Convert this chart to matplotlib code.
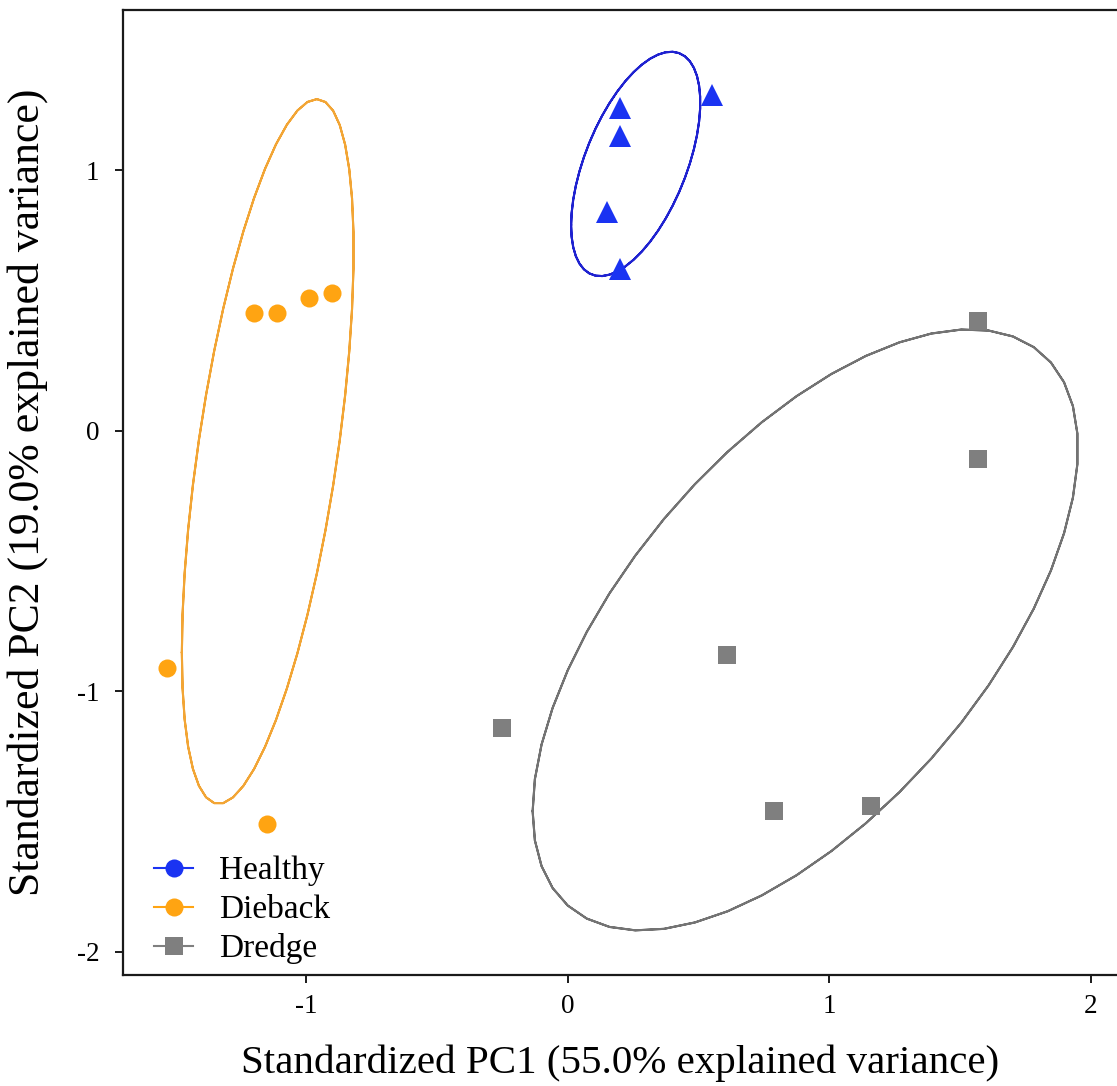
import numpy as np
import matplotlib
matplotlib.use("Agg")
import matplotlib.pyplot as plt
from matplotlib.lines import Line2D

plt.rcParams['font.family'] = ['Liberation Serif', 'DejaVu Serif']

# PCA scores (standardized) per group
healthy_pc1 = [0.20, 0.55, 0.20, 0.15, 0.20]
healthy_pc2 = [1.24, 1.29, 1.13, 0.84, 0.62]

dieback_pc1 = [-1.20, -1.11, -0.99, -0.90, -1.53, -1.15]
dieback_pc2 = [0.45, 0.45, 0.51, 0.53, -0.91, -1.51]

dredge_pc1 = [1.57, 1.57, 0.61, -0.25, 0.79, 1.16]
dredge_pc2 = [0.42, -0.11, -0.86, -1.14, -1.46, -1.44]

group_names = ["Healthy", "Dieback", "Dredge"]
x_ticks = [-1, 0, 1, 2]
y_ticks = [-2, -1, 0, 1]

point_colors = {"Healthy": "#1a33f2", "Dieback": "#ffa412", "Dredge": "#7f7f7f"}
ellipse_colors = {"Healthy": "#1f22d0", "Dieback": "#f2a535", "Dredge": "#737373"}
markers = {"Healthy": "^", "Dieback": "o", "Dredge": "s"}
marker_sizes = {"Healthy": 16, "Dieback": 13, "Dredge": 13}

ELLIPSE_PROB = 0.68


def normal_ellipse(x, y, prob=ELLIPSE_PROB):
    """Normal-theory ellipse from sample covariance (50 segments each way)."""
    data = np.column_stack([x, y])
    sigma = np.cov(data, rowvar=False)
    mu = data.mean(axis=0)
    ed = np.sqrt(-2.0 * np.log(1.0 - prob))  # chi-square quantile, df = 2
    theta = np.concatenate([np.linspace(-np.pi, np.pi, 50),
                            np.linspace(np.pi, -np.pi, 50)])
    circle = np.column_stack([np.cos(theta), np.sin(theta)])
    upper = np.linalg.cholesky(sigma).T
    pts = circle @ upper * ed + mu
    return pts[:, 0], pts[:, 1]


W, H = 1117, 1086
fig = plt.figure(figsize=(W / 100, H / 100), dpi=100)
left_px, right_px, top_px, bottom_px = 123, 1117, 10, 975
ax_w, ax_h = right_px - left_px, bottom_px - top_px
ax = fig.add_axes([left_px / W, 1 - bottom_px / H, ax_w / W, ax_h / H])

groups = {
    "Healthy": (healthy_pc1, healthy_pc2),
    "Dieback": (dieback_pc1, dieback_pc2),
    "Dredge": (dredge_pc1, dredge_pc2),
}

for name in group_names:
    gx, gy = groups[name]
    ex, ey = normal_ellipse(gx, gy)
    ax.plot(ex, ey, color=ellipse_colors[name], lw=1.5, zorder=2)
for name in group_names:
    gx, gy = groups[name]
    ax.plot(gx, gy, linestyle="none", marker=markers[name],
            markersize=marker_sizes[name], color=point_colors[name],
            markeredgewidth=0, zorder=3)

ax.set_xlim(-1.70, 2.10)
ax.set_ylim(-2.09, 1.615)
ax.set_xticks(x_ticks)
ax.set_yticks(y_ticks)
ax.set_xticklabels([str(t) for t in x_ticks])
ax.set_yticklabels([str(t) for t in y_ticks])

for side in ("top", "left", "bottom"):
    ax.spines[side].set_linewidth(1.6)
    ax.spines[side].set_color("#1a1a1a")
ax.spines["right"].set_visible(False)

ax.tick_params(axis="both", direction="out", length=6, width=1.4,
               color="#1a1a1a", labelsize=19.5, labelcolor="black")
ax.tick_params(axis="x", pad=8)
ax.tick_params(axis="y", pad=11)

ax.set_xlabel("Standardized PC1 (55.0% explained variance)", fontsize=29.5)
ax.set_ylabel("Standardized PC2 (19.0% explained variance)", fontsize=31.5)
ax.xaxis.set_label_coords(0.5, -0.072)
ax.yaxis.set_label_coords(-0.075, 0.5)

handles = [
    Line2D([0], [0], color=point_colors["Healthy"], lw=1.5, marker="o",
           markersize=13, markeredgewidth=0),
    Line2D([0], [0], color=point_colors["Dieback"], lw=1.5, marker="o",
           markersize=13, markeredgewidth=0),
    Line2D([0], [0], color=point_colors["Dredge"], lw=1.5, marker="s",
           markersize=13, markeredgewidth=0),
]
ax.legend(handles, group_names, loc="lower left", frameon=False,
          fontsize=24, handlelength=1.17, handletextpad=0.78,
          labelspacing=0.25, borderaxespad=0.0, borderpad=0.0,
          bbox_to_anchor=(31 / ax_w, 10.5 / ax_h))

fig.savefig("out.png", dpi=100)
